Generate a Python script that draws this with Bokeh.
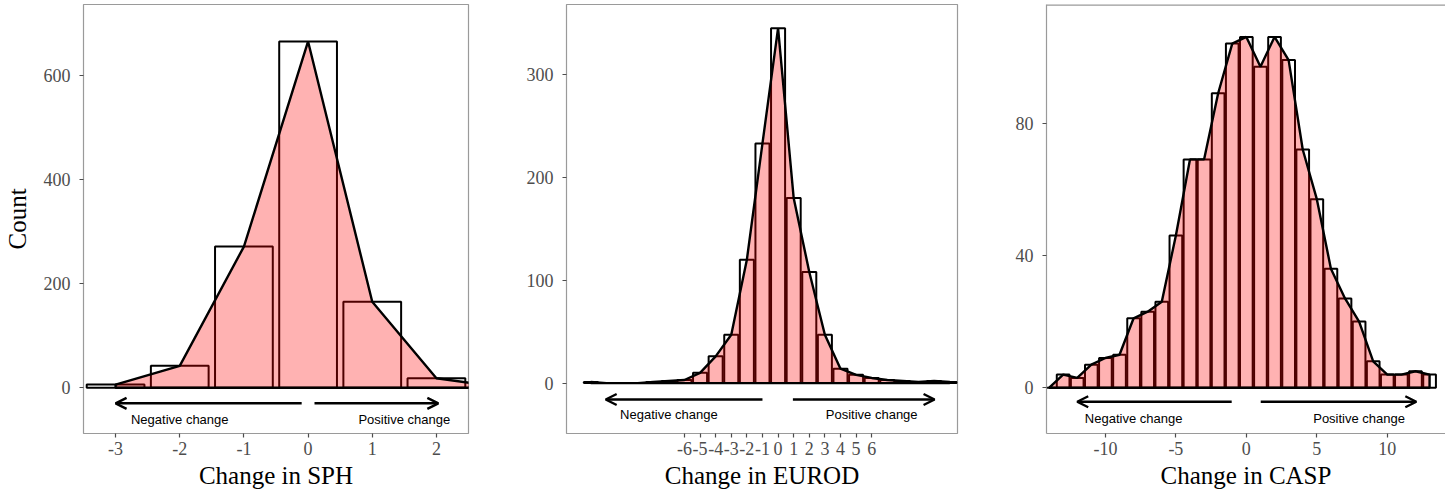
from bokeh.plotting import figure
from bokeh.models import Range1d, FixedTicker, Arrow, OpenHead, Label, Span
from bokeh.layouts import row
from bokeh.embed import file_html
from bokeh.resources import INLINE

# ---------------- data ----------------
sph_x = [-3, -2, -1, 0, 1, 2, 3]
sph_count = [6, 42, 271, 665, 165, 18, 1]

eurod_x = [-12, -11, -10, -9, -8, -7, -6, -5, -4, -3, -2, -1, 0, 1, 2, 3, 4, 5, 6, 7, 8, 9, 10, 11]
eurod_count = [1, 0, 0, 0, 1, 2, 3, 10, 26, 47, 120, 233, 345, 180, 108, 47, 14, 8, 5, 3, 2, 1, 2, 1]

casp_x = [-14, -13, -12, -11, -10, -9, -8, -7, -6, -5, -4, -3, -2, -1, 0,
          1, 2, 3, 4, 5, 6, 7, 8, 9, 10, 11, 12, 13]
casp_count = [0, 4, 3, 7, 9, 10, 21, 23, 26, 46, 69, 69, 89, 104, 106,
              97, 106, 99, 72, 57, 36, 27, 20, 8, 4, 4, 5, 4]

sph_xticks = [-3, -2, -1, 0, 1, 2]
eurod_xticks = [-6, -5, -4, -3, -2, -1, 0, 1, 2, 3, 4, 5, 6]
casp_xticks = [-10, -5, 0, 5, 10]
sph_yticks = [0, 200, 400, 600]
eurod_yticks = [0, 100, 200, 300]
casp_yticks = [0, 40, 80]

x_titles = ["Change in SPH", "Change in EUROD", "Change in CASP"]
y_title = "Count"
neg_text = "Negative change"
pos_text = "Positive change"

SERIF = "Liberation Serif"
SANS = "Liberation Sans"
FRAME = "#9a9a9a"
TICKC = "#4d4d4d"


def lab(v):
    return str(v)


def panel(xs, counts, xr, yr, xticks, yticks, xtitle, ytitle, width,
          mbl, mbr, arrow_y, text_y, neg_arrow, pos_arrow, neg_x, pos_x,
          outline=True):
    p = figure(width=width, height=493, output_backend="svg",
               toolbar_location=None, x_range=Range1d(*xr),
               y_range=Range1d(*yr), min_border_left=mbl,
               min_border_right=mbr, min_border_top=4, min_border_bottom=60)
    p.grid.visible = False
    p.background_fill_color = "white"
    p.border_fill_color = "white"
    if outline:
        p.outline_line_color = FRAME
        p.outline_line_width = 1.2
        p.axis.axis_line_color = None
    else:
        p.outline_line_color = None
        p.axis.axis_line_color = FRAME
        p.axis.axis_line_width = 1.2
        p.add_layout(Span(location=yr[1], dimension="width",
                          line_color=FRAME, line_width=2.4))

    p.xaxis.ticker = FixedTicker(ticks=xticks)
    p.yaxis.ticker = FixedTicker(ticks=yticks)
    p.xaxis.major_label_overrides = {t: lab(t) for t in xticks}
    p.yaxis.major_label_overrides = {t: lab(t) for t in yticks}
    for ax in (p.xaxis, p.yaxis):
        ax.minor_tick_line_color = None
        ax.major_tick_out = 4
        ax.major_tick_in = 0
        ax.major_tick_line_color = TICKC
        ax.major_tick_line_width = 1.2
        ax.major_label_text_font = SERIF
        ax.major_label_text_font_size = "18px"
        ax.major_label_text_color = TICKC
        ax.axis_label_text_font = SERIF
        ax.axis_label_text_font_size = "25px"
        ax.axis_label_text_font_style = "normal"
        ax.axis_label_text_color = "black"
    p.xaxis.major_label_standoff = 4
    p.xaxis.axis_label_standoff = 4
    p.yaxis.major_label_standoff = 9
    p.yaxis.axis_label_standoff = 10
    p.xaxis.axis_label = xtitle
    if ytitle:
        p.yaxis.axis_label = ytitle

    # histogram bars (outlines)
    p.vbar(x=xs, width=0.9, top=counts, bottom=0, fill_color=None,
           line_color="black", line_width=2)
    # area polygon over bars
    px = [xs[0]] + list(xs) + [xs[-1]]
    py = [0] + list(counts) + [0]
    p.patch(px, py, fill_color="red", fill_alpha=0.3, line_color="black",
            line_width=2.4)

    for (xa, xb) in (neg_arrow, pos_arrow):
        p.add_layout(Arrow(end=OpenHead(size=11, line_width=2.4,
                                        line_color="black"),
                           x_start=xa, y_start=arrow_y, x_end=xb,
                           y_end=arrow_y, line_width=2.4,
                           line_color="black"))
    for (tx, tt) in ((neg_x, neg_text), (pos_x, pos_text)):
        p.add_layout(Label(x=tx, y=text_y, text=tt, text_font=SANS,
                           text_font_size="13px", text_align="center",
                           text_baseline="middle", text_color="black"))
    return p


p1 = panel(sph_x, sph_count, (-3.5, 2.5), (-88, 736), sph_xticks, sph_yticks,
           x_titles[0], y_title, 520, 77, 52, -30, -62,
           (-0.1, -3.0), (0.1, 2.03), -2.0, 1.5)
p2 = panel(eurod_x, eurod_count, (-13.56, 11.5), (-49, 368), eurod_xticks,
           eurod_yticks, x_titles[1], None, 480, 46, 43, -16, -31,
           (-1.0, -11.05), (0.95, 10.03), -7.0, 6.0)
p3 = panel(casp_x, casp_count, (-14.18, 14.13), (-13.8, 115.8), casp_xticks,
           casp_yticks, x_titles[2], None, 445, 46, 0, -4.2, -9.4,
           (-1.04, -12.0), (1.02, 12.06), -8.0, 8.0, outline=False)

layout = row(p1, p2, p3)
open("out.html", "w").write(file_html(layout, INLINE))
